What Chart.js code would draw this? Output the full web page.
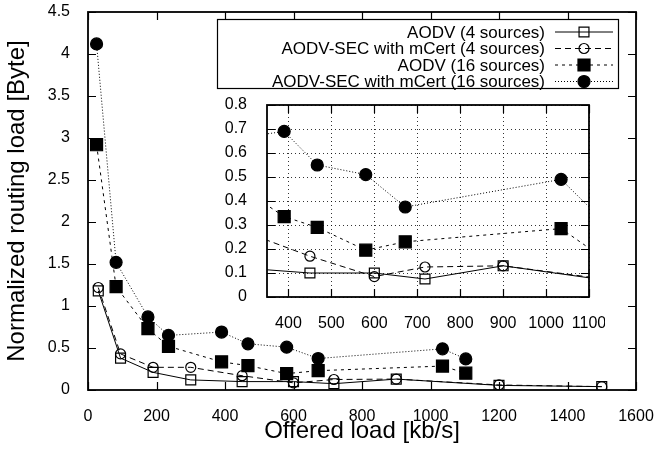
<!DOCTYPE html>
<html>
<head>
<meta charset="utf-8">
<script src="https://cdn.jsdelivr.net/npm/chart.js@4.4.0/dist/chart.umd.min.js"></script>
<style>
body { margin: 0; background: #fff; }
#wrap { position: relative; width: 657px; height: 450px; }
#main { position: absolute; left: 0; top: 0; }
#inset { position: absolute; left: 215px; top: 92px; }
</style>
</head>
<body>
<div id="wrap">
<canvas id="main" width="657" height="450"></canvas>
<canvas id="inset" width="390" height="240"></canvas>
</div>
<script>
var names = ["AODV (4 sources)", "AODV-SEC with mCert (4 sources)", "AODV (16 sources)", "AODV-SEC with mCert (16 sources)"];
var load4 = [30, 95, 190, 300, 450, 600, 718, 900, 1200, 1500];
var aodv4 = [1.18, 0.38, 0.21, 0.12, 0.10, 0.10, 0.075, 0.13, 0.055, 0.04];
var sec4 = [1.22, 0.43, 0.27, 0.27, 0.17, 0.085, 0.125, 0.13, 0.06, 0.04];
var load16 = [25, 82, 175, 235, 390, 467, 580, 672, 1035, 1103];
var aodv16 = [2.92, 1.23, 0.73, 0.52, 0.335, 0.29, 0.195, 0.23, 0.285, 0.2];
var sec16 = [4.12, 1.52, 0.87, 0.65, 0.69, 0.55, 0.51, 0.375, 0.49, 0.37];

var FONT = "'Liberation Sans', Arial, Helvetica, sans-serif";

function pts(xs, ys) {
  return xs.map(function (x, i) { return { x: x, y: ys[i] }; });
}

// style of each series: line dash, marker, filled or not
var looks = [
  { dash: [], style: 'rect', r: 7, fill: false },
  { dash: [6, 4], style: 'circle', r: 5, fill: false },
  { dash: [3, 4], style: 'rect', r: 8.5, fill: true },
  { dash: [1, 2], style: 'circle', r: 6, fill: true }
];

function makeSets(xr) {
  var data = [pts(load4, aodv4), pts(load4, sec4), pts(load16, aodv16), pts(load16, sec16)];
  return data.map(function (d, i) {
    var lk = looks[i];
    var ds = {
      label: names[i],
      data: d,
      borderColor: '#000',
      borderWidth: 1,
      borderDash: lk.dash,
      pointStyle: lk.style,
      pointRadius: lk.r,
      pointHoverRadius: lk.r,
      pointBorderColor: '#000',
      pointBorderWidth: 1.2,
      pointBackgroundColor: lk.fill ? '#000' : 'rgba(0,0,0,0)',
      fill: false,
      tension: 0
    };
    if (xr) {
      // inset: clip lines to the box, no markers outside of it
      ds.clip = 0;
      ds.pointRadius = function (c) {
        var x = c.raw ? c.raw.x : 0;
        return (x < xr[0] || x > xr[1] - 1) ? 0 : lk.r;
      };
    }
    return ds;
  });
}

// frame, inward tick marks and (optionally) dotted grid
function framePlugin(tickLen, grid) {
  return {
    id: 'frame',
    beforeDatasetsDraw: function (chart) {
      var ctx = chart.ctx, a = chart.chartArea;
      var xs = chart.scales.x, ys = chart.scales.y;
      ctx.save();
      if (grid) {
        ctx.strokeStyle = '#000';
        ctx.lineWidth = 0.8;
        ctx.setLineDash([1, 3]);
        xs.ticks.forEach(function (t) {
          var p = Math.round(xs.getPixelForValue(t.value)) + 0.5;
          ctx.beginPath(); ctx.moveTo(p, a.top); ctx.lineTo(p, a.bottom); ctx.stroke();
        });
        ys.ticks.forEach(function (t) {
          var p = Math.round(ys.getPixelForValue(t.value)) + 0.5;
          ctx.beginPath(); ctx.moveTo(a.left, p); ctx.lineTo(a.right, p); ctx.stroke();
        });
      }
      ctx.setLineDash([]);
      ctx.strokeStyle = '#000';
      ctx.lineWidth = 1.2;
      xs.ticks.forEach(function (t) {
        var p = Math.round(xs.getPixelForValue(t.value)) + 0.5;
        ctx.beginPath();
        ctx.moveTo(p, a.bottom); ctx.lineTo(p, a.bottom - tickLen);
        ctx.moveTo(p, a.top); ctx.lineTo(p, a.top + tickLen);
        ctx.stroke();
      });
      ys.ticks.forEach(function (t) {
        var p = Math.round(ys.getPixelForValue(t.value)) + 0.5;
        ctx.beginPath();
        ctx.moveTo(a.left, p); ctx.lineTo(a.left + tickLen, p);
        ctx.moveTo(a.right, p); ctx.lineTo(a.right - tickLen, p);
        ctx.stroke();
      });
      ctx.lineWidth = 1.8;
      ctx.strokeRect(a.left, a.top, a.right - a.left, a.bottom - a.top);
      ctx.restore();
    }
  };
}

function marker(ctx, lk, x, y) {
  ctx.beginPath();
  if (lk.style === 'rect') {
    var h = lk.r * Math.SQRT1_2;
    ctx.rect(x - h, y - h, 2 * h, 2 * h);
  } else {
    ctx.arc(x, y, lk.r, 0, Math.PI * 2);
  }
  if (lk.fill) { ctx.fillStyle = '#000'; ctx.fill(); }
  ctx.lineWidth = 1.2;
  ctx.stroke();
}

// gnuplot style key: text right aligned, sample on the right, boxed
var keyPlugin = {
  id: 'key',
  afterDraw: function (chart) {
    var ctx = chart.ctx;
    var box = { l: 217, t: 19, r: 618, b: 88 };
    ctx.save();
    ctx.fillStyle = '#fff';
    ctx.fillRect(box.l, box.t, box.r - box.l, box.b - box.t);
    ctx.strokeStyle = '#000';
    ctx.lineWidth = 1.2;
    ctx.strokeRect(box.l + 0.5, box.t + 0.5, box.r - box.l, box.b - box.t);
    ctx.font = '17px ' + FONT;
    ctx.textAlign = 'right';
    ctx.textBaseline = 'middle';
    chart.data.datasets.forEach(function (ds, i) {
      var y = 32 + i * 16.5;
      ctx.fillStyle = '#000';
      ctx.fillText(ds.label, 545, y + 1);
      ctx.lineWidth = 1;
      ctx.setLineDash(ds.borderDash);
      ctx.beginPath(); ctx.moveTo(555, y); ctx.lineTo(613, y); ctx.stroke();
      ctx.setLineDash([]);
      marker(ctx, looks[i], 584, y);
    });
    ctx.restore();
  }
};

function numLabel(v) { return String(parseFloat(Number(v).toFixed(3))); }
function noPad(s) { s.paddingLeft = 0; s.paddingRight = 0; s.paddingTop = 0; s.paddingBottom = 0; }

new Chart(document.getElementById('main'), {
  type: 'line',
  data: { datasets: makeSets() },
  options: {
    responsive: false,
    animation: false,
    events: [],
    layout: { padding: { top: 12, right: 21, left: 0, bottom: 0 } },
    plugins: { legend: { display: false }, tooltip: { enabled: false } },
    scales: {
      x: {
        type: 'linear', min: 0, max: 1600,
        grid: { display: false }, border: { display: false },
        ticks: { stepSize: 200, padding: 9, color: '#000', maxRotation: 0,
          font: { family: FONT, size: 16 }, callback: numLabel },
        title: { display: true, text: 'Offered load [kb/s]', color: '#000',
          font: { family: FONT, size: 24 }, padding: { top: 0, bottom: 4 } },
        afterFit: function (s) { s.height = 60; noPad(s); }
      },
      y: {
        type: 'linear', min: 0, max: 4.5,
        grid: { display: false }, border: { display: false },
        ticks: { stepSize: 0.5, padding: 10, color: '#000',
          font: { family: FONT, size: 16 }, callback: numLabel },
        title: { display: true, text: 'Normalized routing load [Byte]', color: '#000',
          font: { family: FONT, size: 24 }, padding: { top: 3, bottom: 0 } },
        afterFit: function (s) { s.width = 88; noPad(s); }
      }
    }
  },
  plugins: [framePlugin(8, false), keyPlugin]
});

new Chart(document.getElementById('inset'), {
  type: 'line',
  data: { datasets: makeSets([350, 1100]) },
  options: {
    responsive: false,
    animation: false,
    events: [],
    layout: { padding: { top: 13, right: 16, left: 0, bottom: 0 } },
    plugins: { legend: { display: false }, tooltip: { enabled: false } },
    scales: {
      x: {
        type: 'linear', min: 350, max: 1100,
        grid: { display: false }, border: { display: false },
        ticks: { stepSize: 100, includeBounds: false, autoSkip: false, padding: 9,
          color: '#000', maxRotation: 0,
          font: { family: FONT, size: 16 }, callback: numLabel },
        afterBuildTicks: function (s) {
          s.ticks = s.ticks.filter(function (t) {
            return t.value % 100 === 0 && t.value >= 350 && t.value <= 1100;
          });
        },
        afterFit: function (s) { s.height = 35; noPad(s); }
      },
      y: {
        type: 'linear', min: 0, max: 0.8,
        grid: { display: false }, border: { display: false },
        ticks: { stepSize: 0.1, padding: 12, color: '#000',
          font: { family: FONT, size: 16 }, callback: numLabel },
        afterFit: function (s) { s.width = 52; noPad(s); }
      }
    }
  },
  plugins: [framePlugin(8, true)]
});
</script>
</body>
</html>
